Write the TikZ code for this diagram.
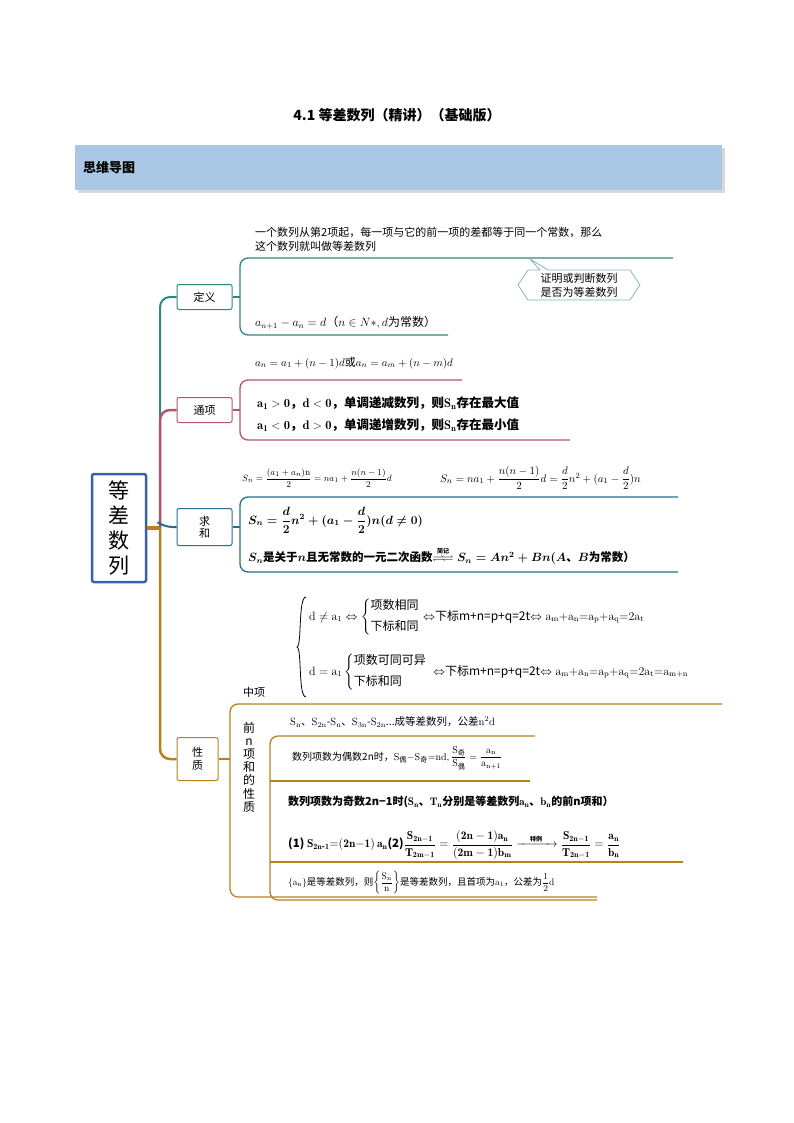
\documentclass[tikz,border=0pt]{standalone}
\usepackage{amsmath,amssymb,mathtools}
\usepackage{fontspec}
\newfontfamily\cjk{Noto Sans CJK SC}
\newcommand{\zh}[1]{\text{\cjk #1}}
\definecolor{cdef}{RGB}{47,135,128}
\definecolor{ctx}{RGB}{180,85,105}
\definecolor{csum}{RGB}{40,110,140}
\definecolor{cpro}{RGB}{185,130,25}
\definecolor{cmain}{RGB}{60,95,170}
\definecolor{ban}{RGB}{170,200,230}
\tikzset{
  br/.style={line width=1.3pt,rounded corners=8pt},
  box/.style={draw,line width=1pt,rounded corners=2pt,fill=white,align=center,font=\cjk\fontsize{11}{13}\selectfont,inner sep=2pt},
  tx/.style={anchor=west,inner sep=0pt,font=\cjk\fontsize{11}{13}\selectfont},
}
\begin{document}
\begin{tikzpicture}[x=1pt,y=-1pt]
\useasboundingbox (0,0) rectangle (794,1123);
\node[font=\cjk\bfseries\fontsize{14}{16}\selectfont] (title) at (397,115) {4.1 等差数列（精讲）（基础版）};
\fill[gray!30] (78,148) rectangle (725,193);
\fill[ban] (75,145) rectangle (722,190);
\node[tx,font=\cjk\bfseries\fontsize{13}{15}\selectfont] (bt) at (83,168) {思维导图};
% main
\node[draw=cmain,line width=2.5pt,rounded corners=2pt,minimum width=54pt,minimum height=108pt,align=center,font=\cjk\fontsize{21}{25}\selectfont] (main) at (119,528) {等\\差\\数\\列};
\node[box,draw=cdef,minimum width=55pt,minimum height=25pt] (def) at (204.5,297) {定义};
\node[box,draw=ctx,minimum width=55pt,minimum height=25pt] (tx) at (204.5,410) {通项};
\node[box,draw=csum,minimum width=55pt,minimum height=37pt,font=\cjk\fontsize{11}{12}\selectfont] (sum) at (204.5,527) {求\\和};
\node[box,draw=cpro,minimum width=41pt,minimum height=43pt,font=\cjk\fontsize{11}{13}\selectfont] (pro) at (197.5,759) {性\\质};
% trunk
\draw[cpro,line width=4pt] (main.east) -- (160,528);
\draw[cdef,line width=2pt,rounded corners=10pt] (160,528) -- (160,297) -- (def.west);
\draw[ctx,line width=2.5pt,rounded corners=10pt] (160,528) -- (160,410) -- (tx.west);
\draw[csum,line width=2pt,rounded corners=8pt] (160,524) -- (164,527) -- (sum.west);
\draw[cpro,line width=2.5pt,rounded corners=10pt] (160,528) -- (160,759) -- (pro.west);
% definition
\draw[cdef,line width=2pt] (def.east) -- (240,297);
\draw[cdef,br] (673,258) -- (240,258) -- (240,335) -- (448,335);
\node[tx,font=\cjk\fontsize{11}{14}\selectfont] (d1) at (255,241) {\begin{tabular}{@{}l@{}}一个数列从第2项起，每一项与它的前一项的差都等于同一个常数，那么\\这个数列就叫做等差数列\end{tabular}};
\node[tx,font=\cjk\fontsize{12}{14}\selectfont] (d2) at (255,323) {$a_{n+1}-a_n=d$（$n\in N*,d$为常数）};
\draw[cdef!60,line width=0.8pt,fill=white] (530,259) -- (548,270) -- (630,270) -- (640,285) -- (630,300) -- (528,300) -- (518,285) -- (528,270) -- (540,270) -- cycle;
\node[align=center,font=\cjk\fontsize{11}{14}\selectfont] (call) at (579,285) {证明或判断数列\\是否为等差数列};
% general term
\draw[ctx,line width=2pt] (tx.east) -- (240,410);
\draw[ctx,br] (462,380) -- (240,380) -- (240,440) -- (570,440);
\node[tx,font=\cjk\fontsize{11}{13}\selectfont] (t1) at (255,363) {$a_n=a_1+(n-1)d$或$a_n=a_m+(n-m)d$};
\node[tx,font=\cjk\bfseries\fontsize{12.5}{14}\selectfont] (t2) at (257,403) {$\mathbf{a_1>0}$，$\mathbf{d<0}$，单调递减数列，则$\mathbf{S_n}$存在最大值};
\node[tx,font=\cjk\bfseries\fontsize{12.5}{14}\selectfont] (t3) at (257,425) {$\mathbf{a_1<0}$，$\mathbf{d>0}$，单调递增数列，则$\mathbf{S_n}$存在最小值};
% sum
\draw[csum,line width=2pt] (sum.east) -- (240,527);
\draw[csum,br] (678,497) -- (240,497) -- (240,572) -- (678,572);
\node[tx,font=\fontsize{9.5}{11}\selectfont] (s1) at (242,478) {$S_n=\dfrac{(a_1+a_n)\mathrm{n}}{2}=na_1+\dfrac{n(n-1)}{2}d$};
\node[tx,font=\fontsize{11}{13}\selectfont] (s2) at (440,478) {$S_n=na_1+\dfrac{n(n-1)}{2}d=\dfrac{d}{2}n^2+(a_1-\dfrac{d}{2})n$};
\node[tx,font=\bfseries\fontsize{12}{14}\selectfont] (s3) at (248,520) {$\boldsymbol{S_n=\dfrac{d}{2}n^2+(a_1-\dfrac{d}{2})n(d\neq0)}$};
\node[tx,font=\cjk\bfseries\fontsize{11.5}{13}\selectfont] (s4) at (248,556) {$\boldsymbol{S_n}$是关于$\boldsymbol n$且无常数的一元二次函数$\overset{\text{\cjk\fontsize{6}{7}\selectfont 简记}}{\rightleftharpoons\joinrel\rightleftharpoons}\boldsymbol{S_n=An^2+Bn(A}$、$\boldsymbol B$为常数）};
% properties
\draw[cpro,line width=2pt] (pro.east) -- (230,759);
\draw[cpro,br] (722,704) -- (230,704) -- (230,897) -- (597,897);
\node[tx] (zx) at (243,692) {中项};
\draw[line width=0.8pt] (306,597) .. controls (298,597) and (302,646) .. (297,647) .. controls (302,648) and (298,697) .. (306,697);
\node[tx,font=\cjk\fontsize{12}{14}\selectfont] (p1) at (309,617) {$\mathrm{d}\neq\mathrm{a}_1\Leftrightarrow\left\{\begin{tabular}{@{}l@{}}项数相同\\[6pt]下标和同\end{tabular}\right.\Leftrightarrow$下标m+n=p+q=2t$\Leftrightarrow\mathrm{a_m{+}a_n{=}a_p{+}a_q{=}2a_t}$};
\node[tx,font=\cjk\fontsize{12}{14}\selectfont] (p2) at (309,672) {$\mathrm{d}=\mathrm{a}_1\left\{\begin{tabular}{@{}l@{}}项数可同可异\\[6pt]下标和同\end{tabular}\right.\ \Leftrightarrow$下标m+n=p+q=2t$\Leftrightarrow\mathrm{a_m{+}a_n{=}a_p{+}a_q{=}2a_t{=}a_{m+n}}$};
\node[align=center,font=\cjk\fontsize{12}{13.2}\selectfont,inner sep=0pt] (qn) at (249,767) {前\\n\\项\\和\\的\\性\\质};
\draw[cpro,br] (535,736) -- (270,736) -- (270,900) -- (597,900);
\draw[cpro,line width=1.3pt] (270,781) -- (530,781);
\draw[cpro,line width=1.3pt] (270,862) -- (683,862);
\node[tx,font=\cjk\fontsize{10.5}{12}\selectfont] (q1) at (290,722) {$\mathrm{S_n}$、$\mathrm{S_{2n}\text{-}S_n}$、$\mathrm{S_{3n}\text{-}S_{2n}}$...成等差数列，公差$\mathrm{n^2d}$};
\node[tx,font=\cjk\fontsize{10}{12}\selectfont] (q2) at (292,758) {数列项数为偶数2n时，$\mathrm{S_{\zh{偶}}{-}S_{\zh{奇}}{=}nd},\dfrac{\mathrm{S}_{\zh{奇}}}{\mathrm{S}_{\zh{偶}}}=\dfrac{\mathrm{a_n}}{\mathrm{a_{n+1}}}$};
\node[tx,font=\cjk\bfseries\fontsize{11}{13}\selectfont] (q3) at (288,802) {数列项数为奇数2n−1时($\mathbf{S_n}$、$\mathbf{T_n}$分别是等差数列$\mathbf{a_n}$、$\mathbf{b_n}$的前n项和）};
\node[tx,font=\cjk\bfseries\fontsize{11.5}{13}\selectfont] (q4) at (288,845) {(1) $\mathbf{S_{2n\text{-}1}{=}(2n{-}1)\,a_n}$(2)$\mathbf{\dfrac{S_{2n-1}}{T_{2m-1}}=\dfrac{(2n-1)a_n}{(2m-1)b_m}\xrightarrow{\quad\text{\cjk\fontsize{6}{7}\selectfont 特例}\quad}\dfrac{S_{2n-1}}{T_{2n-1}}=\dfrac{a_n}{b_n}}$};
\node[tx,font=\cjk\fontsize{9.5}{11}\selectfont] (q5) at (288,883) {$\{\mathrm{a_n}\}$是等差数列，则$\left\{\dfrac{\mathrm{S_n}}{\mathrm{n}}\right\}$是等差数列，且首项为$\mathrm{a_1}$，公差为$\dfrac12\mathrm{d}$};
\end{tikzpicture}
\end{document}
